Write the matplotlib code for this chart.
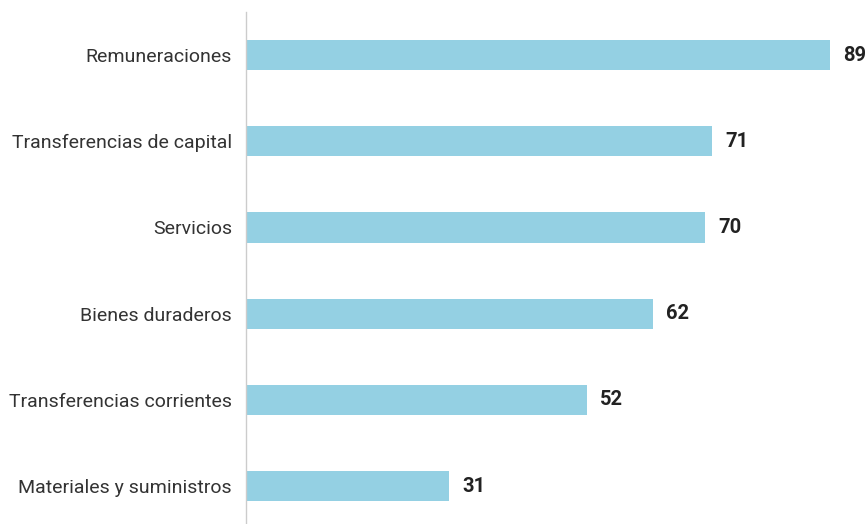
import matplotlib
matplotlib.use("Agg")
import matplotlib.pyplot as plt

plt.rcParams['font.family'] = ['Roboto', 'DejaVu Sans']

categories = ["Remuneraciones", "Transferencias de capital", "Servicios",
              "Bienes duraderos", "Transferencias corrientes", "Materiales y suministros"]
values = [89, 71, 70, 62, 52, 31]

fig = plt.figure(figsize=(8.68, 5.24), dpi=100)
ax = fig.add_axes([246/868, 0, 622/868, 512/524])

y = list(range(len(categories)))
ax.barh(y, values, height=0.35, color="#94D0E3", edgecolor="none")
ax.set_ylim(5.44, -0.5)
ax.set_xlim(0, 94.8)

for yi, v in zip(y, values):
    ax.annotate(str(v), xy=(v, yi), xytext=(9.5, 0), textcoords="offset points",
                va="center", ha="left", fontsize=14.5, fontweight="bold", color="#222222")

ax.set_yticks(y)
ax.set_yticklabels(categories, fontsize=14, color="#333333")
ax.tick_params(axis="y", length=0, pad=10)
ax.set_xticks([])
for s in ["top", "right", "bottom"]:
    ax.spines[s].set_visible(False)
ax.spines["left"].set_color("#cccccc")
ax.spines["left"].set_linewidth(1)

fig.savefig("out.png", dpi=100)
